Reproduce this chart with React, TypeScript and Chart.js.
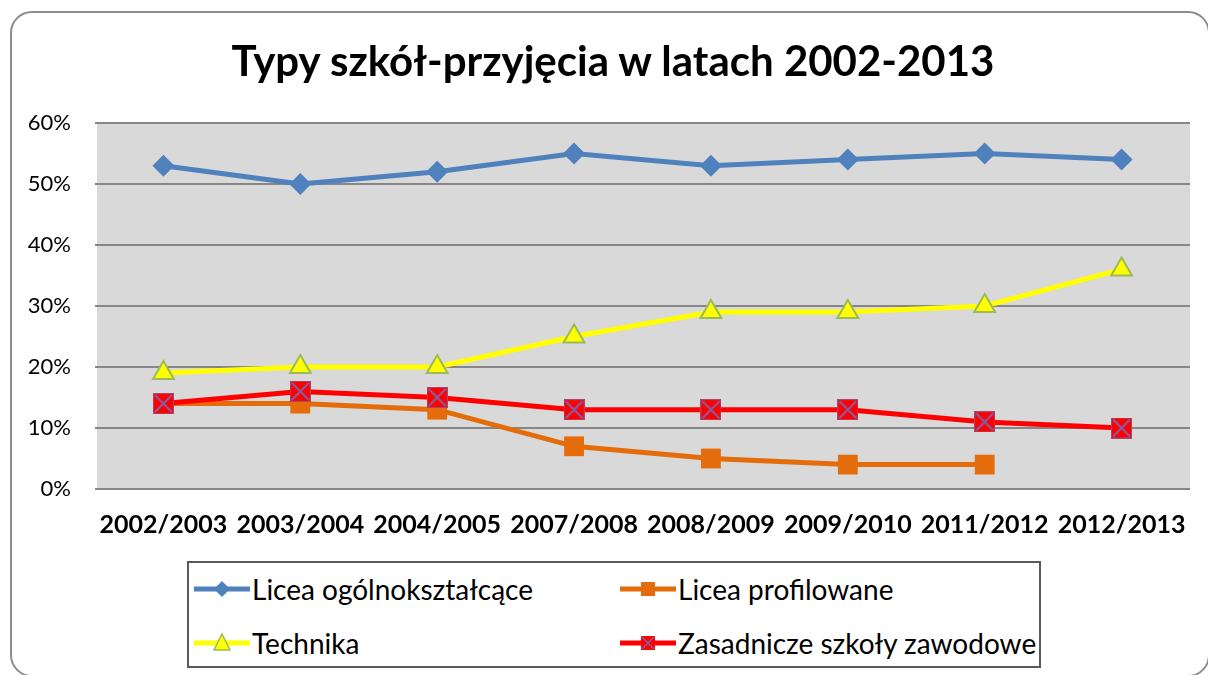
import React, { useEffect, useRef } from "react";
import { Chart, registerables } from "chart.js";

Chart.register(...registerables);

const categories = [
  "2002/2003",
  "2003/2004",
  "2004/2005",
  "2007/2008",
  "2008/2009",
  "2009/2010",
  "2011/2012",
  "2012/2013",
];
const liceaOgolne = [53, 50, 52, 55, 53, 54, 55, 54];
const liceaProfilowane = [14, 14, 13, 7, 5, 4, 4, null];
const technika = [19, 20, 20, 25, 29, 29, 30, 36];
const zasadnicze = [14, 16, 15, 13, 13, 13, 11, 10];
const yTicks = [0, 10, 20, 30, 40, 50, 60];

const TITLE = "Typy szkół-przyjęcia w latach 2002-2013";
const FONT = "Lato, 'Open Sans', sans-serif";

function makeRedMarker(size: number) {
  const c = document.createElement("canvas");
  c.width = size;
  c.height = size;
  const ctx = c.getContext("2d")!;
  ctx.fillStyle = "#FF0000";
  ctx.fillRect(0, 0, size, size);
  ctx.strokeStyle = "rgba(128,100,162,0.7)";
  ctx.lineWidth = 1;
  ctx.strokeRect(0.5, 0.5, size - 1, size - 1);
  ctx.strokeStyle = "#7F62A8";
  ctx.lineWidth = 2;
  ctx.beginPath();
  ctx.moveTo(2, 2);
  ctx.lineTo(size - 2, size - 2);
  ctx.moveTo(size - 2, 2);
  ctx.lineTo(2, size - 2);
  ctx.stroke();
  return c;
}

const plotBg = {
  id: "plotBg",
  beforeDraw(chart: any) {
    const { ctx, chartArea } = chart;
    ctx.save();
    ctx.fillStyle = "#D9D9D9";
    ctx.fillRect(chartArea.left + 2, chartArea.top, chartArea.right - chartArea.left - 2, chartArea.bottom - chartArea.top);
    ctx.restore();
  },
};

function LegendMarker({ kind }: { kind: string }) {
  const w = 56;
  const h = 24;
  const cx = w / 2;
  const cy = h / 2;
  let color = "#4F81BD";
  let marker: React.ReactNode = null;
  if (kind === "blue") {
    color = "#4F81BD";
    marker = <polygon points={`${cx},${cy - 8} ${cx + 8},${cy} ${cx},${cy + 8} ${cx - 8},${cy}`} fill="#4F81BD" />;
  } else if (kind === "orange") {
    color = "#E46C0A";
    marker = <rect x={cx - 7} y={cy - 7} width={14} height={14} fill="#E46C0A" />;
  } else if (kind === "yellow") {
    color = "#FFFF00";
    marker = (
      <polygon points={`${cx},${cy - 9} ${cx + 8},${cy + 7} ${cx - 8},${cy + 7}`} fill="#FFFF00" stroke="#9BBB59" strokeWidth={1.5} />
    );
  } else {
    color = "#FF0000";
    marker = (
      <g>
        <rect x={cx - 7} y={cy - 7} width={14} height={14} fill="#FF0000" />
        <line x1={cx - 6} y1={cy - 6} x2={cx + 6} y2={cy + 6} stroke="#7F62A8" strokeWidth={1.5} />
        <line x1={cx + 6} y1={cy - 6} x2={cx - 6} y2={cy + 6} stroke="#7F62A8" strokeWidth={1.5} />
      </g>
    );
  }
  return (
    <svg width={w} height={h} style={{ display: "block" }}>
      <line x1={0} y1={cy} x2={w} y2={cy} stroke={color} strokeWidth={5} />
      {marker}
    </svg>
  );
}

const legendItems = [
  { label: "Licea ogólnokształcące", kind: "blue", x: 5, y: 28 },
  { label: "Licea profilowane", kind: "orange", x: 431, y: 28 },
  { label: "Technika", kind: "yellow", x: 5, y: 82 },
  { label: "Zasadnicze szkoły zawodowe", kind: "red", x: 431, y: 82 },
];

export default function App() {
  const canvasRef = useRef<HTMLCanvasElement | null>(null);

  useEffect(() => {
    const redMarker = makeRedMarker(21);
    const chart = new Chart(canvasRef.current!, {
      type: "line",
      data: {
        labels: categories,
        datasets: [
          {
            label: "Licea ogólnokształcące",
            data: liceaOgolne,
            borderColor: "#4F81BD",
            backgroundColor: "#4F81BD",
            borderWidth: 5,
            pointStyle: "rectRot",
            pointRadius: 11,
            pointBorderWidth: 0,
            pointBackgroundColor: "#4F81BD",
            order: 1,
          },
          {
            label: "Licea profilowane",
            data: liceaProfilowane,
            borderColor: "#E46C0A",
            backgroundColor: "#E46C0A",
            borderWidth: 5,
            pointStyle: "rect",
            pointRadius: 14,
            pointBorderWidth: 0,
            pointBackgroundColor: "#E46C0A",
            spanGaps: false,
            order: 3,
          },
          {
            label: "Technika",
            data: technika,
            borderColor: "#FFFF00",
            backgroundColor: "#FFFF00",
            borderWidth: 5,
            pointStyle: "triangle",
            pointRadius: 12,
            pointBorderWidth: 2,
            pointBorderColor: "#9BBB59",
            pointBackgroundColor: "#FFFF00",
            order: 2,
          },
          {
            label: "Zasadnicze szkoły zawodowe",
            data: zasadnicze,
            borderColor: "#FF0000",
            backgroundColor: "#FF0000",
            borderWidth: 5,
            pointStyle: redMarker as any,
            pointRadius: 11,
            order: 0,
          },
        ],
      },
      options: {
        animation: false,
        responsive: false,
        devicePixelRatio: 1,
        layout: { padding: { top: 123, right: 18, bottom: 0, left: 0 } },
        plugins: {
          legend: { display: false },
          title: { display: false },
          tooltip: { enabled: false },
        },
        scales: {
          x: {
            offset: true,
            grid: { display: false, drawTicks: false, offset: true },
            border: { display: false },
            ticks: {
              padding: 21,
              color: "#000",
              font: { family: FONT, size: 25, weight: "bold" },
              maxRotation: 0,
              autoSkip: false,
            },
            afterFit(scale: any) {
              scale.height = 71;
            },
          },
          y: {
            min: 0,
            max: 60,
            afterBuildTicks(scale: any) {
              scale.ticks = yTicks.map((v) => ({ value: v }));
            },
            grid: { color: "#868686", lineWidth: 2, drawTicks: false, tickLength: 0 },
            border: { display: false },
            ticks: {
              padding: 24,
              color: "#000",
              font: { family: FONT, size: 22 },
              callback: (v: any) => `${v}%`,
            },
            afterFit(scale: any) {
              scale.width = 95;
            },
          },
        },
      },
      plugins: [plotBg],
    });
    return () => chart.destroy();
  }, []);

  return (
    <div style={{ position: "fixed", left: 0, top: 0, width: 1208, height: 675, background: "#fff", overflow: "hidden" }}>
      <div
        style={{
          position: "absolute",
          left: 10,
          top: 11,
          width: 1200,
          height: 666,
          border: "2px solid #8C8C8C",
          borderRadius: 22,
          boxSizing: "border-box",
        }}
      />
      <canvas ref={canvasRef} width={1208} height={560} style={{ position: "absolute", left: 0, top: 0 }} />
      <div
        style={{
          position: "absolute",
          left: 613,
          top: 30,
          transform: "translateX(-50%)",
          whiteSpace: "nowrap",
          fontFamily: FONT,
          fontWeight: "bold",
          fontSize: 42,
          lineHeight: "60px",
          color: "#000",
        }}
      >
        {TITLE}
      </div>
      <div
        style={{
          position: "absolute",
          left: 187,
          top: 561,
          width: 854,
          height: 107,
          border: "2px solid #5A5A5A",
          boxSizing: "border-box",
          background: "#fff",
        }}
      >
        {legendItems.map((it) => (
          <div
            key={it.label}
            style={{
              position: "absolute",
              left: it.x,
              top: it.y - 2 - 16,
              height: 32,
              display: "flex",
              alignItems: "center",
              whiteSpace: "nowrap",
            }}
          >
            <LegendMarker kind={it.kind} />
            <span style={{ fontFamily: FONT, fontSize: 28, color: "#000", marginLeft: 2 }}>{it.label}</span>
          </div>
        ))}
      </div>
    </div>
  );
}
